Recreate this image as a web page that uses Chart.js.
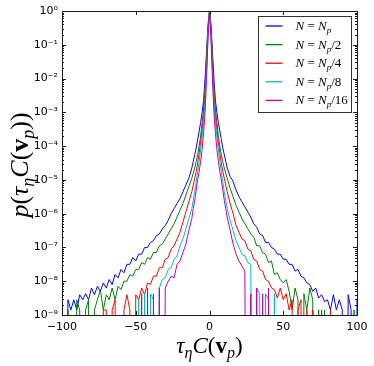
<!DOCTYPE html>
<html>
<head>
<meta charset="utf-8">
<script src="https://cdn.jsdelivr.net/npm/chart.js@4.4.1/dist/chart.umd.min.js"></script>
<style>
    html, body { margin: 0; padding: 0; background: #fff; }
</style>
</head>
<body>
<canvas id="pdf-chart" width="374" height="366"></canvas>
<script>
// bin centres of tau_eta * C(v_p)
const tauC = [
    -100, -98, -96, -94, -92, -90, -88, -86, -84, -82, -80, -78, -76, -74, -72,
    -70, -68, -66, -64, -62, -60, -58, -56, -54, -52, -50, -48, -46, -44, -42,
    -40, -38, -36, -34, -32, -30, -28, -26, -24, -22, -20, -18, -16, -14, -12,
    -11, -10, -9, -8, -7, -6, -5, -4, -3, -2, -1, 0, 1, 2, 3, 4, 5, 6, 7, 8, 9, 10, 11,
    12, 14, 16, 18, 20, 22, 24, 26, 28, 30, 32, 34, 36, 38, 40,
    42, 44, 46, 48, 50, 52, 54, 56, 58, 60, 62, 64, 66, 68, 70,
    72, 74, 76, 78, 80, 82, 84, 86, 88, 90, 92, 94, 96, 98, 100
];

// log10 of the pdf, -30 = empty bin
const logN1 = [
    -8.85, -30, -8.55, -8.85, -8.55, -8.85, -8.4, -8.55, -8.37, -8.55, -8.2, -8.4, -8.15, -8.3, -8.05,
    -8.2, -7.95, -8.1, -7.8, -7.9, -7.65, -7.75, -7.5, -7.5, -7.3, -7.4, -7.2, -7.2, -7.0, -7.0,
    -6.85, -6.8, -6.65, -6.6, -6.45, -6.35, -6.2, -6.0, -5.85, -5.7, -5.55, -5.35, -5.15, -4.95, -4.65,
    -4.45, -4.25, -4.05, -3.8, -3.55, -3.3, -3.0, -2.65, -2.0, -1.2, -0.4, 0, -0.4, -1.2, -2.0, -2.65, -3.0, -3.3, -3.55, -3.8, -4.05, -4.25, -4.45,
    -4.65, -4.9, -5.05, -5.3, -5.5, -5.65, -5.8, -5.95, -6.1, -6.3, -6.4, -6.6, -6.65, -6.85, -6.85,
    -7.0, -7.05, -7.2, -7.2, -7.35, -7.35, -7.5, -7.5, -7.7, -7.65, -7.85, -7.9, -8.05, -8.1, -8.3,
    -8.2, -8.5, -8.4, -8.6, -8.55, -8.85, -8.4, -8.85, -8.55, -8.85, -30, -8.4, -8.85, -30, -8.55
];
const logN2 = [
    -30, -30, -8.85, -30, -30, -8.55, -8.85, -30, -8.85, -8.55, -30, -8.85, -8.55, -8.25, -8.85,
    -8.4, -8.55, -8.2, -8.55, -8.15, -8.25, -8.0, -8.0, -7.8, -7.85, -7.65, -7.65, -7.45, -7.5, -7.3,
    -7.35, -7.15, -7.15, -6.95, -6.9, -6.75, -6.6, -6.45, -6.3, -6.1, -5.9, -5.7, -5.45, -5.2, -4.95,
    -4.8, -4.65, -4.45, -4.25, -4.0, -3.7, -3.3, -2.9, -2.3, -1.4, -0.5, 0, -0.5, -1.4, -2.3, -2.9, -3.3, -3.7, -4.0, -4.25, -4.45, -4.65, -4.8,
    -4.95, -5.25, -5.5, -5.75, -5.95, -6.15, -6.3, -6.45, -6.6, -6.7, -6.95, -6.95, -7.15, -7.2, -7.45,
    -7.4, -7.8, -7.75, -7.95, -8.05, -7.95, -8.3, -8.85, -8.2, -8.55, -30, -8.37, -8.85, -8.2, -8.55,
    -30, -8.85, -30, -8.85, -30, -30, -30, -30, -30, -30, -30, -30, -30, -8.85, -30
];
const logN4 = [
    -30, -30, -30, -30, -30, -30, -30, -30, -30, -30, -30, -30, -30, -30, -8.85,
    -8.85, -30, -8.85, -8.55, -30, -30, -8.85, -8.4, -8.85, -30, -8.4, -8.55, -8.2, -8.4, -8.05,
    -8.1, -7.85, -7.85, -7.6, -7.6, -7.35, -7.3, -7.05, -6.95, -6.75, -6.55, -6.25, -5.95, -5.65, -5.35,
    -5.15, -4.95, -4.75, -4.5, -4.2, -3.9, -3.5, -3.1, -2.5, -1.6, -0.6, 0, -0.6, -1.6, -2.5, -3.1, -3.5, -3.9, -4.2, -4.5, -4.75, -4.95, -5.15,
    -5.35, -5.7, -6.0, -6.35, -6.55, -6.75, -6.8, -7.05, -7.1, -7.35, -7.4, -7.65, -7.7, -7.95, -8.0,
    -8.2, -8.25, -8.5, -8.2, -8.55, -8.37, -8.85, -8.55, -30, -8.85, -8.55, -30, -8.85, -30, -8.85,
    -30, -30, -8.85, -30, -30, -8.85, -30, -30, -30, -30, -30, -30, -30, -30, -30
];
const logN8 = [
    -30, -30, -30, -30, -30, -30, -30, -30, -30, -30, -30, -30, -30, -30, -30,
    -30, -30, -30, -30, -30, -30, -30, -30, -30, -30, -30, -8.55, -30, -8.37, -30,
    -8.37, -8.55, -30, -8.2, -7.95, -7.9, -7.65, -7.6, -7.35, -7.25, -6.95, -6.75, -6.45, -6.15, -5.85,
    -5.6, -5.35, -5.05, -4.75, -4.45, -4.1, -3.7, -3.3, -2.7, -1.8, -0.7, 0, -0.7, -1.8, -2.7, -3.3, -3.7, -4.1, -4.45, -4.75, -5.05, -5.35, -5.6,
    -5.85, -6.2, -6.5, -6.8, -7.0, -7.2, -7.25, -7.45, -7.5, -30, -8.2, -8.37, -30, -8.37, -8.55,
    -30, -8.37, -30, -30, -30, -30, -30, -30, -30, -30, -30, -30, -30, -30, -30,
    -30, -30, -30, -30, -30, -30, -30, -30, -30, -30, -30, -30, -30, -30, -30
];
const logN16 = [
    -30, -30, -30, -30, -30, -30, -30, -30, -30, -30, -30, -30, -30, -30, -30,
    -30, -30, -30, -30, -30, -30, -30, -30, -30, -30, -30, -30, -8.37, -30, -8.2,
    -30, -8.37, -30, -8.2, -30, -8.2, -8.0, -7.85, -7.9, -7.5, -7.4, -7.15, -6.9, -6.5, -6.15,
    -5.85, -5.6, -5.3, -5.0, -4.75, -4.45, -4.1, -3.6, -3.0, -2.0, -0.8, 0, -0.8, -2.0, -3.0, -3.6, -4.1, -4.45, -4.75, -5.0, -5.3, -5.6, -5.85,
    -6.1, -6.5, -6.9, -7.2, -7.4, -7.55, -7.7, -30, -8.37, -30, -8.2, -30, -8.37, -30, -8.2,
    -30, -30, -30, -30, -30, -30, -30, -30, -30, -30, -30, -30, -30, -30, -30,
    -30, -30, -30, -30, -30, -30, -30, -30, -30, -30, -30, -30, -30, -30, -30
];

const seriesLogs = [logN1, logN2, logN4, logN8, logN16];
const seriesDivisors = ['', '/2', '/4', '/8', '/16'];
const seriesColors = ['#0000ff', '#008000', '#ff0000', '#00bfbf', '#bf00bf'];

const xTicks = [-100, -50, 0, 50, 100];
const yTickExps = [0, -1, -2, -3, -4, -5, -6, -7, -8, -9];

const SUP = { '0': '⁰', '1': '¹', '2': '²', '3': '³', '4': '⁴', '5': '⁵', '6': '⁶', '7': '⁷', '8': '⁸', '9': '⁹', '-': '⁻' };
const serif = 'Liberation Serif';

// draws a row of text pieces (for sub scripts), centred on cx
function drawPieces(ctx, pieces, cx, baseY) {
    let total = 0;
    pieces.forEach(p => { ctx.font = p.f; total += ctx.measureText(p.t).width; });
    let x = cx - total / 2;
    ctx.textAlign = 'left';
    ctx.textBaseline = 'alphabetic';
    pieces.forEach(p => {
        ctx.font = p.f;
        ctx.fillText(p.t, x, baseY + (p.dy || 0));
        x += ctx.measureText(p.t).width;
    });
}

function argPieces(size) {
    const sub = Math.round(size * 0.68);
    const dy = Math.round(size * 0.22);
    return [
        { t: 'τ', f: 'italic ' + size + 'px ' + serif },
        { t: 'η', f: 'italic ' + sub + 'px ' + serif, dy: dy },
        { t: 'C', f: 'italic ' + size + 'px ' + serif },
        { t: '(', f: size + 'px ' + serif },
        { t: 'v', f: 'bold ' + size + 'px ' + serif },
        { t: 'p', f: 'italic ' + sub + 'px ' + serif, dy: dy },
        { t: ')', f: size + 'px ' + serif }
    ];
}

const decorPlugin = {
    id: 'decor',
    afterDatasetsDraw(chart) {
        const { ctx, chartArea: a, scales } = chart;
        ctx.save();
        ctx.strokeStyle = '#1a1a1a';
        ctx.lineWidth = 1;
        // ticks pointing inwards, like the original
        ctx.beginPath();
        xTicks.forEach(v => {
            const px = Math.round(scales.x.getPixelForValue(v)) + 0.5;
            ctx.moveTo(px, a.bottom); ctx.lineTo(px, a.bottom - 4);
            ctx.moveTo(px, a.top); ctx.lineTo(px, a.top + 4);
        });
        yTickExps.forEach(e => {
            const py = Math.round(scales.y.getPixelForValue(Math.pow(10, e))) + 0.5;
            ctx.moveTo(a.left, py); ctx.lineTo(a.left + 4, py);
            ctx.moveTo(a.right, py); ctx.lineTo(a.right - 4, py);
            if (e < 0) {
                for (let m = 2; m <= 9; m++) {
                    const pm = Math.round(scales.y.getPixelForValue(m * Math.pow(10, e))) + 0.5;
                    ctx.moveTo(a.left, pm); ctx.lineTo(a.left + 2, pm);
                    ctx.moveTo(a.right, pm); ctx.lineTo(a.right - 2, pm);
                }
            }
        });
        ctx.stroke();
        ctx.strokeRect(Math.round(a.left) + 0.5, Math.round(a.top) + 0.5,
            Math.round(a.right - a.left), Math.round(a.bottom - a.top));

        // legend box
        const bx = Math.round(a.right) - 98.5, by = Math.round(a.top) + 5.5;
        ctx.fillStyle = '#fff';
        ctx.fillRect(bx, by, 93, 96);
        ctx.strokeStyle = '#333';
        ctx.strokeRect(bx, by, 93, 96);
        seriesColors.forEach((c, i) => {
            const ry = by + 9.5 + i * 18.6;
            ctx.strokeStyle = c;
            ctx.lineWidth = 1.3;
            ctx.beginPath();
            ctx.moveTo(bx + 7, ry); ctx.lineTo(bx + 24, ry);
            ctx.stroke();
            ctx.fillStyle = '#000';
            const pieces = [
                { t: 'N', f: 'italic 13px ' + serif },
                { t: ' = ', f: '13px ' + serif },
                { t: 'N', f: 'italic 13px ' + serif },
                { t: 'p', f: 'italic 9px ' + serif, dy: 3 },
                { t: seriesDivisors[i], f: '13px ' + serif }
            ];
            let w = 0;
            pieces.forEach(p => { ctx.font = p.f; w += ctx.measureText(p.t).width; });
            drawPieces(ctx, pieces, bx + 37 + w / 2, ry + 4);
        });

        // axis titles
        ctx.fillStyle = '#000';
        drawPieces(ctx, argPieces(23), (a.left + a.right) / 2, 353);
        ctx.translate(28, (a.top + a.bottom) / 2 + 2);
        ctx.rotate(-Math.PI / 2);
        const yPieces = [{ t: 'p', f: 'italic 26px ' + serif }, { t: '(', f: '26px ' + serif }]
            .concat(argPieces(26), [{ t: ')', f: '26px ' + serif }]);
        drawPieces(ctx, yPieces, 0, 0);
        ctx.restore();
    }
};

const ctx1 = document.getElementById('pdf-chart');

new Chart(ctx1, {
    type: 'line',
    data: {
        datasets: seriesLogs.map((logs, i) => ({
            label: 'N = Np' + seriesDivisors[i],
            data: tauC.map((x, j) => ({ x: x, y: Math.pow(10, logs[j]) })),
            borderColor: seriesColors[i],
            borderWidth: 1,
            pointRadius: 0,
            fill: false,
            tension: 0,
            order: 5 - i // last series drawn on top
        }))
    },
    options: {
        responsive: false,
        animation: false,
        layout: { padding: { top: 11, right: 17, left: 0, bottom: 0 } },
        plugins: {
            legend: { display: false },
            tooltip: { enabled: false }
        },
        scales: {
            x: {
                type: 'linear',
                min: -100,
                max: 100,
                grid: { display: false, drawTicks: false },
                border: { display: false },
                afterBuildTicks: s => { s.ticks = xTicks.map(v => ({ value: v })); },
                afterFit: s => { s.height = 51; },
                ticks: {
                    padding: 6,
                    maxRotation: 0,
                    color: '#000',
                    font: { family: 'DejaVu Sans', size: 11 },
                    callback: v => String(v).replace('-', '−')
                }
            },
            y: {
                type: 'logarithmic',
                min: 1e-9,
                max: 1,
                grid: { display: false, drawTicks: false },
                border: { display: false },
                afterBuildTicks: s => { s.ticks = yTickExps.map(e => ({ value: Math.pow(10, e) })); },
                afterFit: s => { s.width = 62; },
                ticks: {
                    padding: 4,
                    color: '#000',
                    font: { family: 'DejaVu Sans', size: 11 },
                    callback: v => '10' + String(Math.round(Math.log10(v))).split('').map(ch => SUP[ch]).join('')
                }
            }
        }
    },
    plugins: [decorPlugin]
});
</script>
</body>
</html>
